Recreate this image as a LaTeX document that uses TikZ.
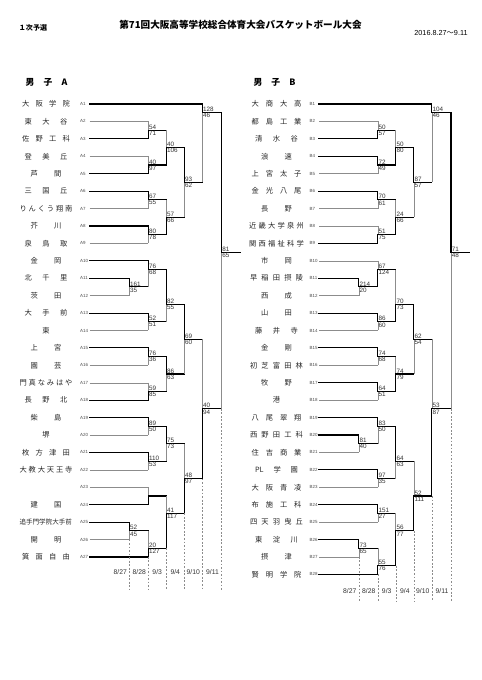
\documentclass[tikz,border=0pt]{standalone}
\usepackage{fontspec}
\setmainfont{Liberation Sans}
\newfontfamily\jp{Noto Sans CJK JP}
\usetikzlibrary{positioning}
\newlength\pxu
\setlength\pxu{0.03cm}
\newcommand\colA{129.3}
\newcommand\colB{148.3}
\newcommand\colC{166.2}
\newcommand\colD{184.3}
\newcommand\colE{202.3}
\newcommand\colF{221.5}

\begin{document}
\begin{tikzpicture}[
  x=0.03cm, y=-0.03cm,
  win/.style={black, line width=0.95pt, line cap=rect},
  lose/.style={black!45, line width=0.4pt},
  u-up/.style={win}, u-lo/.style={lose},
  l-up/.style={lose}, l-lo/.style={win},
  daydash/.style={black!45, line width=0.35pt, dash pattern=on 1.6pt off 1.4pt},
  score/.style={font=\fontsize{5.4}{5.4}\selectfont, text=black!80, inner sep=0.5pt},
  teamid/.style={font=\fontsize{3.8}{3.8}\selectfont, text=black!70, anchor=west, inner sep=0pt},
  team/.style={font=\jp\fontsize{6.2}{6.2}\selectfont, text=black!85, inner sep=0pt},
  day/.style={font=\fontsize{5.8}{5.8}\selectfont, text=black!80, inner sep=0pt}
]

\useasboundingbox (0,0) rectangle (481,680);
\fill[white] (0,0) rectangle (481,680);

% Header.
\node[font=\jp\bfseries\fontsize{6}{6}\selectfont] (stage) at (33,28) {１次予選};
\node[font=\jp\bfseries\fontsize{8.2}{8.2}\selectfont] (title) at (240.5,25)
  {第71回大阪高等学校総合体育大会バスケットボール大会};
\node[font=\fontsize{6.2}{6.2}\selectfont] (period) at (441,32.7) {2016.8.27{\jp ～}9.11};
\node[font=\jp\bfseries\fontsize{7.5}{7.5}\selectfont] (grpa) at (46.5,82.7)
  {\makebox[42\pxu][s]{男 子 A}};
\node[font=\jp\bfseries\fontsize{7.5}{7.5}\selectfont] (grpb) at (274.5,82.7)
  {\makebox[42\pxu][s]{男 子 B}};

% Boys A: rows in half-row steps, row 0 = A1.
\begin{scope}[yshift=-3.12cm, y=-0.2613cm]

\foreach \i/\w/\nm in {1/48/大 阪 学 院, 2/43/東 大 谷, 3/48/佐 野 工 科, 4/43/登 美 丘,
    5/31/芦 間, 6/43/三 国 丘, 7/53/り ん く う 翔 南, 8/31/芥 川, 9/43/泉 鳥 取,
    10/31/金 岡, 11/43/北 千 里, 12/31/茨 田, 13/43/大 手 前, 14/7.3/東, 15/31/上 宮,
    16/31/園 芸, 17/53/門 真 な み は や, 18/43/長 野 北, 19/31/柴 島, 20/7.3/堺,
    21/48/枚 方 津 田, 22/53/大 教 大 天 王 寺, 24/31/建 国,
    25/53/{\fontsize{5.6}{5.6}\selectfont 追手門学院大手前}, 26/31/開 明, 27/48/箕 面 自 由} {
  \node[team] (ta\i) at (46,{2*\i-2}) {\makebox[\w\pxu][s]{\nm}};
}

% Entry lines, thick for the first-round winner.
\foreach \i/\c/\s in {1/\colE/win, 2/\colB/lose, 3/\colB/win, 4/\colB/lose, 5/\colB/win,
    6/\colB/win, 7/\colB/lose, 8/\colB/win, 9/\colB/lose, 10/\colB/win, 11/\colA/win,
    12/\colA/lose, 13/\colB/win, 14/\colB/lose, 15/\colB/win, 16/\colB/lose,
    17/\colB/lose, 18/\colB/win, 19/\colB/win, 20/\colB/lose, 21/\colB/win,
    22/\colB/lose, 23/\colB/lose, 24/\colB/win, 25/\colA/win, 26/\colA/lose,
    27/\colB/win} {
  \node[teamid] (ia\i) at (80,{2*\i-2}) {A\i};
  \draw[\s] (89.5,{2*\i-2}) -- (\c,{2*\i-2});
}

% Matches: column / upper / lower / out row / next column / scores / winner.
\foreach \c/\a/\b/\o/\e/\sa/\sb/\w [count=\n] in {
    \colA/20/22/21/\colB/161/35/u, \colA/48/50/49/\colB/52/45/u,
    \colB/2/4/3/\colC/54/71/l, \colB/6/8/7/\colC/40/97/l,
    \colB/10/12/11/\colC/67/55/u, \colB/14/16/15/\colC/80/78/u,
    \colB/18/21/19/\colC/76/68/u, \colB/24/26/25/\colC/52/51/u,
    \colB/28/30/29/\colC/76/36/u, \colB/32/34/33/\colC/59/85/l,
    \colB/36/38/37/\colC/89/50/u, \colB/40/42/41/\colC/110/53/u,
    \colB/44/46/45/\colC/{}/{}/l, \colB/49/52/51/\colC/20/127/l,
    \colC/3/7/5/\colD/40/106/l, \colC/11/15/13/\colD/57/66/l,
    \colC/19/25/23/\colD/82/55/u, \colC/29/33/31/\colD/86/63/u,
    \colC/37/41/39/\colD/75/73/u, \colC/45/51/47/\colD/41/117/l,
    \colD/5/13/9/\colE/93/62/u, \colD/23/31/27/\colE/69/60/u,
    \colD/39/47/43/\colE/48/97/l, \colE/0/9/1/\colF/128/46/u,
    \colE/27/43/35/\colF/40/94/l, \colF/1/35/17/240/81/65/u} {
  \draw[\w-up] (\c,\a) -- (\c,\o);
  \draw[\w-lo] (\c,\o) -- (\c,\b);
  \draw[win] (\c,\o) -- (\e,\o);
  \node[score, anchor=south west] (au\n) at (\c,\o) {\sa};
  \node[score, anchor=north west] (al\n) at (\c,\o) {\sb};
}

% Match days.
\foreach \c/\s/\d [count=\n] in {\colA/50/{8/27}, \colB/52/{8/28}, \colC/51/{9/3},
    \colD/47/{9/4}, \colE/43/{9/10}, \colF/35/{9/11}} {
  \draw[daydash] (\c,\s) -- (\c,55.8);
  \node[day] (da\n) at (\c-9,53.7) {\d};
}
\end{scope}

% Boys B: same grid, shifted right.
\begin{scope}[xshift=6.885cm, yshift=-3.12cm, y=-0.2613cm]

\foreach \i/\w/\nm in {1/50/大 商 大 高, 2/50/都 島 工 業, 3/43/清 水 谷, 4/31/浪 速,
    5/50/上 宮 太 子, 6/50/金 光 八 尾, 7/31/長 野, 8/55/近 畿 大 学 泉 州,
    9/55/関 西 福 祉 科 学, 10/31/市 岡, 11/53/早 稲 田 摂 陵, 12/31/西 成, 13/31/山 田,
    14/43/藤 井 寺, 15/31/金 剛, 16/53/初 芝 富 田 林, 17/31/牧 野, 18/7.3/港,
    19/50/八 尾 翠 翔, 20/53/西 野 田 工 科, 21/50/住 吉 商 業, 22/43/PL 学 園,
    23/50/大 阪 青 凌, 24/50/布 施 工 科, 25/53/四 天 羽 曳 丘, 26/43/東 淀 川,
    27/31/摂 津, 28/50/賢 明 学 院} {
  \node[team] (tb\i) at (47,{2*\i-2}) {\makebox[\w\pxu][s]{\nm}};
}

\foreach \i/\c/\s in {1/\colE/win, 2/\colB/lose, 3/\colB/win, 4/\colB/win, 5/\colB/lose,
    6/\colB/win, 7/\colB/lose, 8/\colB/lose, 9/\colB/win, 10/\colB/lose, 11/\colA/win,
    12/\colA/lose, 13/\colB/win, 14/\colB/lose, 15/\colB/win, 16/\colB/lose,
    17/\colB/win, 18/\colB/lose, 19/\colB/win, 20/\colA/win, 21/\colA/lose,
    22/\colB/win, 23/\colB/lose, 24/\colB/win, 25/\colB/lose, 26/\colA/win,
    27/\colA/lose, 28/\colB/win} {
  \node[teamid] (ib\i) at (80,{2*\i-2}) {B\i};
  \draw[\s] (89.5,{2*\i-2}) -- (\c,{2*\i-2});
}

\foreach \c/\a/\b/\o/\e/\sa/\sb/\w [count=\n] in {
    \colA/20/22/21/\colB/214/20/u, \colA/38/40/39/\colB/81/40/u,
    \colA/50/52/51/\colB/73/65/u,
    \colB/2/4/3/\colC/50/57/l, \colB/6/8/7/\colC/72/49/u,
    \colB/10/12/11/\colC/70/61/u, \colB/14/16/15/\colC/51/75/l,
    \colB/18/21/19/\colC/67/124/l, \colB/24/26/25/\colC/86/60/u,
    \colB/28/30/29/\colC/74/68/u, \colB/32/34/33/\colC/64/51/u,
    \colB/36/39/37/\colC/83/50/u, \colB/42/44/43/\colC/97/35/u,
    \colB/46/48/47/\colC/151/27/u, \colB/51/54/53/\colC/55/76/l,
    \colC/3/7/5/\colD/50/80/l, \colC/11/15/13/\colD/24/66/l,
    \colC/19/25/23/\colD/70/73/l, \colC/29/33/31/\colD/74/79/l,
    \colC/37/43/41/\colD/64/63/u, \colC/47/53/49/\colD/56/77/l,
    \colD/5/13/9/\colE/87/57/u, \colD/23/31/27/\colE/62/54/u,
    \colD/41/49/45/\colE/52/111/l, \colE/0/9/1/\colF/104/46/u,
    \colE/27/45/35/\colF/53/87/l, \colF/1/35/17/240/71/48/u} {
  \draw[\w-up] (\c,\a) -- (\c,\o);
  \draw[\w-lo] (\c,\o) -- (\c,\b);
  \draw[win] (\c,\o) -- (\e,\o);
  \node[score, anchor=south west] (bu\n) at (\c,\o) {\sa};
  \node[score, anchor=north west] (bl\n) at (\c,\o) {\sb};
}

\foreach \c/\s/\d [count=\n] in {\colA/52/{8/27}, \colB/54/{8/28}, \colC/53/{9/3},
    \colD/49/{9/4}, \colE/45/{9/10}, \colF/35/{9/11}} {
  \draw[daydash] (\c,\s) -- (\c,57.1);
  \node[day] (db\n) at (\c-9,55.9) {\d};
}
\end{scope}

\end{tikzpicture}
\end{document}
